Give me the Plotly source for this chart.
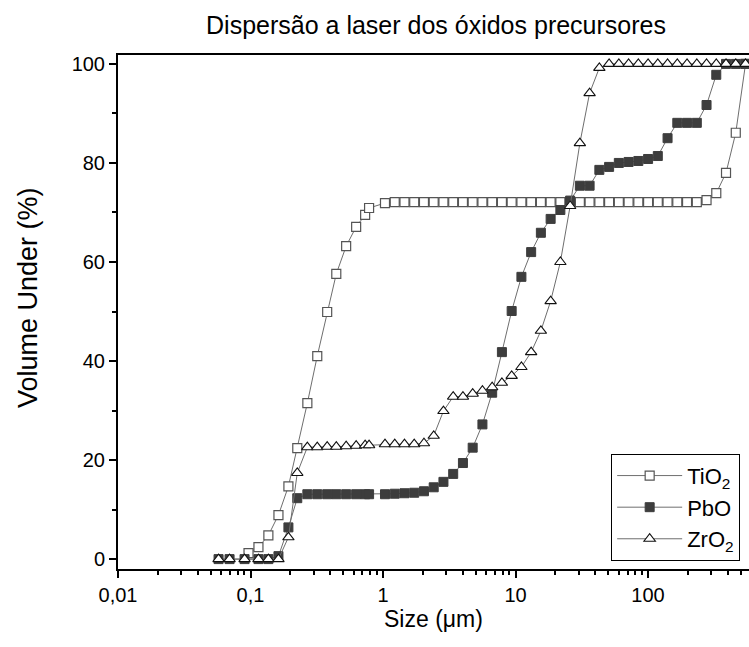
import plotly.graph_objects as go

# ---------------- data ----------------
size_fine_um = [0.0574, 0.0695, 0.0902, 0.1148, 0.1364, 0.1625, 0.1932, 0.2254,
                0.2685, 0.319, 0.379, 0.444, 0.527, 0.627, 0.733, 0.785]
size_coarse_um = [1.035, 1.226, 1.452, 1.72, 2.037, 2.413, 2.858, 3.386, 4.01, 4.75,
                  5.627, 6.665, 7.894, 9.351, 11.08, 13.12, 15.54, 18.41, 21.8, 25.83,
                  30.59, 36.23, 42.92, 50.84, 60.22, 71.33, 84.49, 100.1, 118.5, 140.4,
                  166.3, 197.0, 233.4, 276.4, 327.4, 387.8, 459.4, 544.2]

tio2_fine_x = [0.0966, 0.1148, 0.1364, 0.1625, 0.1932, 0.2254, 0.2685, 0.319, 0.379,
               0.444, 0.527, 0.627, 0.733, 0.785]
tio2_fine_y = [1.2, 2.4, 4.8, 8.9, 14.7, 22.4, 31.5, 41.0, 49.9, 57.6, 63.2, 67.1, 69.5, 70.9]
tio2_coarse_y = [71.9, 72.1, 72.1, 72.1, 72.1, 72.1, 72.1, 72.1, 72.1, 72.1,
                 72.1, 72.1, 72.1, 72.1, 72.1, 72.1, 72.1, 72.1, 72.1, 72.1,
                 72.1, 72.1, 72.1, 72.1, 72.1, 72.1, 72.1, 72.1, 72.1, 72.1,
                 72.1, 72.1, 72.1, 72.5, 73.9, 78.0, 86.1, 100.0]

pbo_fine_y = [0, 0, 0, 0, 0, 0.6, 6.4, 12.3, 13.1, 13.1, 13.1, 13.1, 13.1, 13.1, 13.1, 13.1]
pbo_coarse_y = [13.1, 13.2, 13.3, 13.4, 13.7, 14.5, 15.6, 17.2, 19.4, 22.5,
                27.2, 33.6, 41.8, 50.1, 57.0, 62.0, 65.9, 68.7, 70.5, 72.4,
                75.4, 75.4, 78.6, 79.2, 80.0, 80.2, 80.4, 80.8, 81.4, 85.0,
                88.1, 88.1, 88.1, 91.7, 97.8, 100.0, 100.0, 100.0]

zro2_fine_y = [0, 0, 0, 0, 0, 0, 4.4, 17.4, 22.6, 22.6, 22.7, 22.7, 22.8, 22.9, 23.0, 23.0]
zro2_coarse_y = [23.2, 23.2, 23.2, 23.2, 23.4, 24.9, 29.9, 32.8, 32.8, 33.4,
                 34.0, 34.7, 35.6, 37.0, 38.8, 41.8, 46.1, 52.1, 60.0, 71.3,
                 84.0, 94.1, 99.2, 100.0, 100.0, 100.0, 100.0, 100.0, 100.0, 100.0,
                 100.0, 100.0, 100.0, 100.0, 100.0, 100.0, 100.0, 100.0]

x_tickvals = [0.01, 0.1, 1, 10, 100]
x_ticktext = ["0,01", "0,1", "1", "10", "100"]
y_tickvals = [0, 20, 40, 60, 80, 100]

# ---------------- figure ----------------
FONT = "Liberation Sans, Arial, sans-serif"
LINE = dict(color="#6e6e6e", width=1)

fig = go.Figure()
fig.add_trace(go.Scatter(
    x=tio2_fine_x + size_coarse_um, y=tio2_fine_y + tio2_coarse_y,
    mode="lines+markers", name="TiO<sub>2</sub>", line=LINE,
    marker=dict(symbol="square", size=9, color="white",
                line=dict(color="#555555", width=1.2))))
fig.add_trace(go.Scatter(
    x=size_fine_um + size_coarse_um, y=pbo_fine_y + pbo_coarse_y,
    mode="lines+markers", name="PbO", line=LINE,
    marker=dict(symbol="square", size=9, color="#3d3d3d",
                line=dict(color="#3d3d3d", width=1))))
fig.add_trace(go.Scatter(
    x=size_fine_um + size_coarse_um, y=zro2_fine_y + zro2_coarse_y,
    mode="lines+markers", name="ZrO<sub>2</sub>", line=LINE,
    marker=dict(symbol="triangle-up", size=10, color="white",
                line=dict(color="#111111", width=1.1))))

minor_x = [m * 10 ** e for e in range(-2, 3) for m in range(2, 10)]

fig.update_layout(
    width=749, height=647,
    margin=dict(l=118, r=0, t=55, b=78),
    paper_bgcolor="white", plot_bgcolor="white",
    font=dict(family=FONT, size=20, color="black"),
    title=dict(text="Dispersão a laser dos óxidos precursores",
               x=436 / 749, xanchor="center", y=1 - 25 / 647, yanchor="middle",
               font=dict(size=25)),
    showlegend=True,
    legend=dict(x=0.986, xanchor="right", y=0.016, yanchor="bottom",
                bordercolor="black", borderwidth=1, bgcolor="white",
                font=dict(size=22), itemwidth=65, tracegroupgap=0),
    xaxis=dict(type="log", range=[-2, 2.762], showgrid=False, zeroline=False,
               showline=True, linecolor="black", linewidth=2, mirror=True,
               ticks="outside", ticklen=7, tickwidth=1.5, tickcolor="black",
               tickvals=x_tickvals, ticktext=x_ticktext,
               minor=dict(tickvals=minor_x, ticks="outside", ticklen=4,
                          tickwidth=1.5, tickcolor="black")),
    yaxis=dict(range=[-2, 101.8], showgrid=False, zeroline=False,
               showline=True, linecolor="black", linewidth=2,
               ticks="outside", ticklen=7, tickwidth=1.5, tickcolor="black",
               tickvals=y_tickvals,
               minor=dict(dtick=10, ticks="outside", ticklen=4,
                          tickwidth=1.5, tickcolor="black")),
    annotations=[
        dict(text="Size (μm)", xref="paper", yref="paper",
             x=0.5, y=(569 - 619) / 514, xanchor="center", yanchor="middle",
             showarrow=False, font=dict(size=23)),
        dict(text="Volume Under (%)", xref="paper", yref="paper",
             x=(28 - 118) / 631, y=(569 - 298) / 514, xanchor="center",
             yanchor="middle", textangle=-90, showarrow=False,
             font=dict(size=27)),
    ],
)

fig.write_html("out.html")
